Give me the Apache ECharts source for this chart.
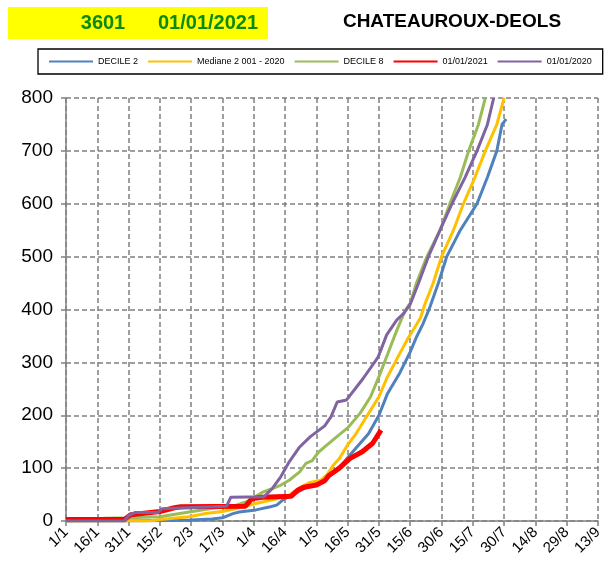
<!DOCTYPE html>
<html>
<head>
<meta charset="utf-8">
<script src="https://cdn.jsdelivr.net/npm/echarts@6/dist/echarts.min.js"></script>
<style>
html,body{margin:0;padding:0;background:#fff;}
#chart{width:610px;height:566px;}
</style>
</head>
<body>
<div id="chart"></div>
<script>
// Day offsets from 1 January (2021), cumulative values
const seriesNames = ['DECILE 2', 'Mediane 2 001 - 2020', 'DECILE 8', '01/01/2021', '01/01/2020'];
const yTicks = [0, 100, 200, 300, 400, 500, 600, 700, 800];

const decile2 = [[0,0],[30,0],[45,1],[60,2],[70,4],[75,6],[80,14],[83,17],[91,21],[98,27],[101,30],[104,40],[107,47],[112,57],[117,67],[123,77],[127,87],[130,96],[134,115],[139,138],[145,165],[150,200],[154,240],[160,280],[165,320],[168,348],[171,372],[174,400],[178.5,450],[182.5,500],[189,550],[197,600],[202,650],[206.5,700],[209,750],[211,760]];
const median = [[0,0],[40,0],[45,3],[59,8],[67,14],[75,18],[83,25],[91,33],[101,42],[107,49],[112,63],[117,73],[122,77],[125,87],[128,105],[131,118],[135,144],[139,165],[144,197],[150,235],[154,272],[160,317],[164,346],[167,365],[170,385],[172,410],[176,450],[180,500],[185.7,550],[190.5,600],[196,650],[201,700],[206.5,750],[210,800]];
const decile8 = [[0,0],[15,1],[18,5],[30,6],[45,8],[59,17],[72,25],[80,28],[87,37],[94,54],[98,60],[103,68],[107,77],[112,93],[115,109],[118,114],[121,130],[124,140],[130,160],[135,176],[141,204],[146,235],[150,273],[154,314],[158.5,360],[162.5,398],[165,412],[168,450],[173,500],[179.3,550],[184,600],[189,650],[193,700],[197.7,750],[201,800]];
const year2021 = [[0,3],[28,3],[31,12],[45,18],[52,25],[55,27],[86,28],[89,42],[94,45],[108,47],[111,58],[114,64],[120,68],[124,76],[126,86],[131,100],[136,118],[142,131],[147,147],[151,172]];
const year2020 = [[0,0],[28,0],[30,10],[33,16],[44,16],[46,23],[70,27],[77,28],[79,45],[95,46],[99,62],[103,84],[107,112],[112,140],[117,159],[120,168],[124,180],[127,197],[130,225],[134.5,229],[142.5,270],[149.6,310],[153.7,352],[158.5,380],[162,393],[165,410],[169,450],[173.7,500],[179.3,550],[185,600],[191.3,650],[197,700],[202,750],[205,800]];

const FONT = '"Liberation Sans", Arial, sans-serif';
const chart = echarts.init(document.getElementById('chart'), null, {renderer: 'canvas'});

function dayLabel(v) {
  const d = new Date(2021, 0, 1 + Math.round(v));
  return d.getDate() + '/' + (d.getMonth() + 1);
}

const colors = ['#4F81BD', '#FFC000', '#9BBB59', '#FF0000', '#8064A2'];
const datas = [decile2, median, decile8, year2021, year2020];
const widths = [3, 3, 3, 5, 3];

chart.setOption({
  animation: false,
  graphic: [
    {type: 'rect', shape: {x: 8, y: 7, width: 260, height: 32}, style: {fill: '#FFFF00'}},
    {type: 'text', x: 103, y: 23, style: {text: '3601', fill: '#0B8A0B', font: 'bold 20px ' + FONT, textAlign: 'center', textVerticalAlign: 'middle'}},
    {type: 'text', x: 208, y: 23, style: {text: '01/01/2021', fill: '#0B8A0B', font: 'bold 20px ' + FONT, textAlign: 'center', textVerticalAlign: 'middle'}},
    {type: 'text', x: 452, y: 22, style: {text: 'CHATEAUROUX-DEOLS', fill: '#000', font: 'bold 19px ' + FONT, textAlign: 'center', textVerticalAlign: 'middle'}}
  ],
  legend: {
    left: 38, top: 49, width: 570,
    orient: 'horizontal',
    padding: [8, 11, 8, 11],
    borderColor: '#000', borderWidth: 1.3,
    icon: 'rect',
    itemWidth: 44, itemHeight: 2, itemGap: 10,
    textStyle: {fontSize: 9, fontFamily: FONT, color: '#000'},
    data: seriesNames
  },
  grid: {left: 66, right: 12, top: 98, bottom: 45, containLabel: false},
  xAxis: {
    type: 'value', min: 0, max: 255, interval: 15,
    axisLine: {show: true, lineStyle: {color: '#808080', width: 1.5}},
    axisTick: {show: true, length: 5, lineStyle: {color: '#808080', width: 1.5}},
    axisLabel: {rotate: 45, margin: 9, fontSize: 15, fontFamily: FONT, color: '#000', formatter: dayLabel},
    splitLine: {show: true, lineStyle: {color: '#808080', width: 1.5, type: [5, 3]}}
  },
  yAxis: {
    type: 'value', min: yTicks[0], max: yTicks[yTicks.length - 1], interval: 100,
    axisLine: {show: true, lineStyle: {color: '#808080', width: 1.5}},
    axisTick: {show: true, length: 5, lineStyle: {color: '#808080', width: 1.5}},
    axisLabel: {margin: 13, fontSize: 19, fontFamily: FONT, color: '#000'},
    splitLine: {show: true, lineStyle: {color: '#808080', width: 1.5, type: [5, 3]}}
  },
  series: seriesNames.map((n, i) => ({
    name: n, type: 'line', data: datas[i], symbol: 'none', smooth: false,
    color: colors[i],
    lineStyle: {color: colors[i], width: widths[i]},
    clip: true
  }))
});
</script>
</body>
</html>
